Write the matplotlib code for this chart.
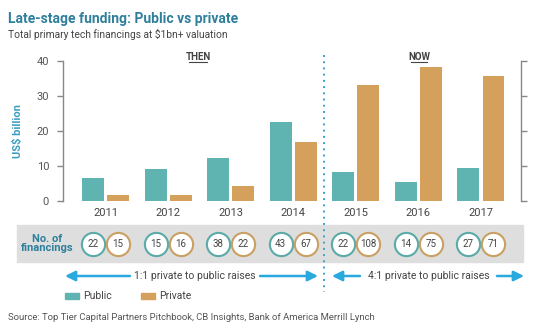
import matplotlib
matplotlib.use("Agg")
import matplotlib.pyplot as plt
import numpy as np

plt.rcParams['font.family'] = ['Roboto', 'DejaVu Sans']

years = ["2011", "2012", "2013", "2014", "2015", "2016", "2017"]
public = [6.4, 9.0, 12.1, 22.4, 8.3, 5.4, 9.4]
private = [1.6, 1.6, 4.3, 16.9, 33.0, 38.3, 35.6]
n_public = [22, 15, 38, 43, 22, 14, 27]
n_private = [15, 16, 22, 67, 108, 75, 71]
yticks = [0, 10, 20, 30, 40]

TEAL = "#5fb3b1"
ORANGE = "#d4a05b"
TITLE_C = "#2d7f9c"
ARROW_C = "#2aa9df"
GRAY = "#555555"

W, H = 540, 334
fig = plt.figure(figsize=(W / 100, H / 100), dpi=100)
fig.patch.set_facecolor("white")

# overlay axes in pixel coords
ov = fig.add_axes([0, 0, 1, 1], zorder=0)
ov.set_xlim(0, W)
ov.set_ylim(H, 0)
ov.axis("off")

# main axes
x0, x1, ytop, ybot = 63, 521, 60.7, 200.7
ax = fig.add_axes([x0 / W, 1 - ybot / H, (x1 - x0) / W, (ybot - ytop) / H], zorder=2)
ax.patch.set_alpha(0)
x = np.arange(len(years))
bw = 0.35
ax.bar(x - 0.2, public, bw, color=TEAL, label="Public")
ax.bar(x + 0.2, private, bw, color=ORANGE, label="Private")
ax.set_xlim(-0.68, 6.64)
ax.set_ylim(0, 40)
ax.set_yticks(yticks)
ax.set_yticklabels([str(t) for t in yticks])
ax.tick_params(axis="y", which="both", direction="out", length=4, width=1, color="#888888",
               labelsize=8, labelcolor=GRAY, right=True, pad=6)
ax.set_xticks(x)
ax.set_xticklabels(years)
ax.tick_params(axis="x", length=0, labelsize=8, labelcolor="#444444", pad=5)
for s in ["top", "bottom"]:
    ax.spines[s].set_visible(False)
for s in ["left", "right"]:
    ax.spines[s].set_color("#888888")
    ax.spines[s].set_linewidth(1)
ax.set_ylabel("US$ billion", color="#3a9dc0", fontsize=8, fontweight="bold", labelpad=10)

# Titles
fig.text(8 / W, 1 - 19 / H, "Late-stage funding: Public vs private", color=TITLE_C,
         fontsize=10, fontweight="bold", va="center", ha="left")
fig.text(8 / W, 1 - 34 / H, "Total primary tech financings at $1bn+ valuation", color="#444444",
         fontsize=7.4, va="center", ha="left")

# THEN / NOW
ov.text(198, 57, "THEN", fontsize=7, fontweight="bold", color="#444444", ha="center", va="center")
ov.plot([189, 207], [62, 62], color="#444444", lw=0.8)
ov.text(419, 57, "NOW", fontsize=7, fontweight="bold", color="#444444", ha="center", va="center")
ov.plot([411, 427], [62, 62], color="#444444", lw=0.8)

# dotted divider
ov.plot([324, 324], [55, 292], color="#3aa6c9", lw=1.4, ls=(0, (1, 2.2)), zorder=3)

# band
ov.add_patch(plt.Rectangle((17, 225), 506, 37, color="#dedede", zorder=1))
ov.text(47, 243.5, "No. of\nfinancings", color=TITLE_C, fontsize=8, fontweight="bold",
        ha="center", va="center", linespacing=0.95, zorder=4)

# circles in pixel coords, aligned to bar centres
def data_to_px(xd):
    return x0 + (xd - (-0.68)) / (6.64 - (-0.68)) * (x1 - x0)

cy = 244
for i in range(len(years)):
    for off, n, ec in [(-0.2, n_public[i], "#5aaaa7"), (0.2, n_private[i], "#c9a062")]:
        px = data_to_px(i + off)
        ov.scatter([px], [cy], s=280, facecolor="white", edgecolor=ec, linewidth=1.5, zorder=4)
        ov.text(px, cy, str(n), fontsize=7, color="#444444", ha="center", va="center", zorder=5)

# arrows
ay = 276
def arrow(xa, xb):
    ov.annotate("", xy=(xb, ay), xytext=(xa, ay),
                arrowprops=dict(arrowstyle="-|>,head_length=0.6,head_width=0.3", color=ARROW_C, lw=1.8,
                                shrinkA=0, shrinkB=0), zorder=4)
arrow(130, 65); arrow(260, 318)
ov.text(195, ay, "1:1 private to public raises", fontsize=7.5, color="#444444", ha="center", va="center")
arrow(360, 332); arrow(497, 524)
ov.text(429, ay, "4:1 private to public raises", fontsize=7.5, color="#444444", ha="center", va="center")

# legend
ov.add_patch(plt.Rectangle((65, 293), 14, 6, color=TEAL))
ov.text(83, 296, "Public", fontsize=7.5, color="#444444", va="center", ha="left")
ov.add_patch(plt.Rectangle((141, 293), 14, 6, color=ORANGE))
ov.text(159, 296, "Private", fontsize=7.5, color="#444444", va="center", ha="left")

# source
ov.text(8, 318, "Source: Top Tier Capital Partners Pitchbook, CB Insights, Bank of America Merrill Lynch",
        fontsize=6.8, color="#555555", va="center", ha="left")

fig.savefig("out.png", dpi=100, facecolor="white")
